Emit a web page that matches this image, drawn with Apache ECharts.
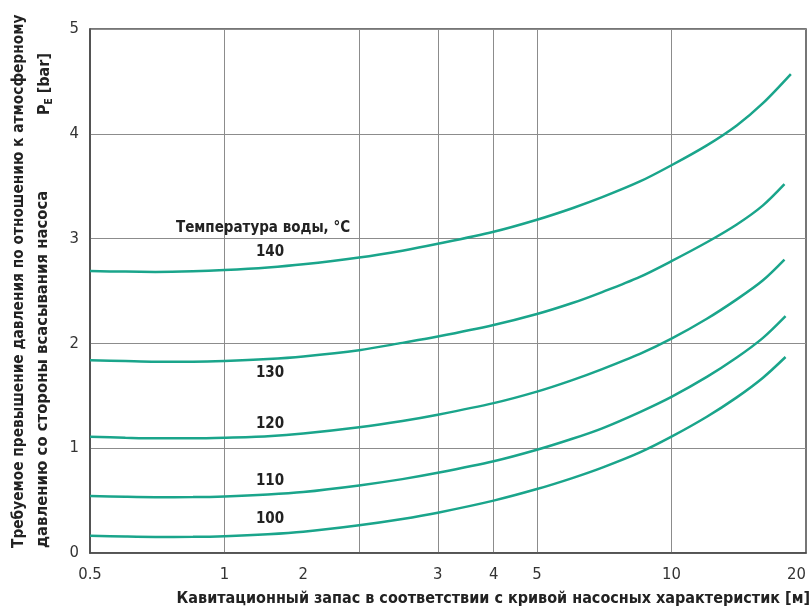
<!DOCTYPE html>
<html>
<head>
<meta charset="utf-8">
<script src="https://cdn.jsdelivr.net/npm/echarts@6/dist/echarts.min.js"></script>
<style>
html,body{margin:0;padding:0;background:#fff;}
#chart{width:812px;height:610px;}
</style>
</head>
<body>
<div id="chart"></div>
<script>
// X values (NPSH, m) — log axis
var xPoints = [0.5, 0.6, 0.7, 0.85, 1, 1.25, 1.5, 2, 2.5, 3, 4, 5, 6, 7, 8.5, 10, 12, 14, 16];
var endX = { t140: 18.5, t130: 17.9, t120: 17.9, t110: 18, t100: 18 };
// Required pressure P_E [bar]
var t140 = [2.69, 2.685, 2.682, 2.688, 2.70, 2.725, 2.755, 2.82, 2.885, 2.95, 3.065, 3.18, 3.29, 3.395, 3.545, 3.70, 3.89, 4.08, 4.29, 4.57];
var t130 = [1.84, 1.832, 1.826, 1.826, 1.832, 1.85, 1.875, 1.935, 2.005, 2.065, 2.175, 2.28, 2.385, 2.49, 2.635, 2.785, 2.965, 3.135, 3.315, 3.52];
var t120 = [1.11, 1.10, 1.094, 1.094, 1.10, 1.115, 1.14, 1.20, 1.26, 1.32, 1.43, 1.54, 1.65, 1.755, 1.90, 2.045, 2.235, 2.42, 2.60, 2.80];
var t110 = [0.545, 0.537, 0.533, 0.534, 0.54, 0.558, 0.582, 0.645, 0.705, 0.765, 0.875, 0.985, 1.09, 1.19, 1.345, 1.49, 1.68, 1.865, 2.05, 2.26];
var t100 = [0.165, 0.157, 0.153, 0.154, 0.16, 0.178, 0.202, 0.265, 0.325, 0.385, 0.50, 0.61, 0.715, 0.815, 0.96, 1.11, 1.30, 1.485, 1.67, 1.87];
var seriesNames = ['140', '130', '120', '110', '100'];
// Axis ticks
var xGridValues = [1, 2, 3, 4, 5, 10];
var xLabelValues = [0.5, 1, 1.5, 3, 4, 5, 10, 20];
var xLabelTexts = ['0.5', '1', '2', '3', '4', '5', '10', '20'];
var yMin = 0, yMax = 5, yStep = 1;

var titleFont = '"Liberation Sans Narrow", "DejaVu Sans Condensed", sans-serif';
var tickFont = '"DejaVu Sans Condensed", "Liberation Sans Narrow", sans-serif';
var lineColor = '#1aa58b';

function pairs(ys, xEnd) {
  var xs = xPoints.concat([xEnd]);
  return ys.map(function (y, i) { return [xs[i], y]; });
}
var curveData = [
  pairs(t140, endX.t140), pairs(t130, endX.t130), pairs(t120, endX.t120),
  pairs(t110, endX.t110), pairs(t100, endX.t100)
];

function xLabel(v) {
  var best = 0, bd = Infinity;
  for (var i = 0; i < xLabelValues.length; i++) {
    var d = Math.abs(Math.log(v) - Math.log(xLabelValues[i]));
    if (d < bd) { bd = d; best = i; }
  }
  return xLabelTexts[best];
}

var chart = echarts.init(document.getElementById('chart'), null, { renderer: 'canvas' });
var option = {
  animation: false,
  backgroundColor: '#fff',
  grid: {
    left: 90, top: 29, width: 716, height: 524,
    outerBoundsMode: 'none', containLabel: false,
    show: true, borderColor: '#4a4a4a', borderWidth: 1.5, backgroundColor: 'transparent'
  },
  xAxis: {
    type: 'log', logBase: 10, min: 0.5, max: 20,
    axisLine: { show: true, lineStyle: { color: '#4a4a4a', width: 1.5 } },
    axisTick: { show: false, customValues: xGridValues },
    splitLine: { show: true, lineStyle: { color: '#8c8c8c', width: 1 } },
    axisLabel: {
      customValues: xLabelValues,
      formatter: function (v) { return xLabel(v); },
      alignMaxLabel: 'right',
      fontFamily: tickFont, fontSize: 16.5, color: '#333', margin: 13
    }
  },
  yAxis: {
    type: 'value', min: yMin, max: yMax, interval: yStep,
    axisLine: { show: true, lineStyle: { color: '#4a4a4a', width: 1.5 } },
    axisTick: { show: false },
    splitLine: { show: true, lineStyle: { color: '#8c8c8c', width: 1 } },
    axisLabel: { fontFamily: tickFont, fontSize: 16.5, color: '#333', margin: 11 }
  },
  series: curveData.map(function (d, i) {
    return {
      name: seriesNames[i], type: 'line', data: d, smooth: 0.3,
      showSymbol: false, symbol: 'none',
      lineStyle: { color: lineColor, width: 2.5 }
    };
  }),
  graphic: [
    { type: 'text', x: 263, y: 228, style: { text: 'Температура воды, °C', font: 'bold 15px ' + titleFont, fill: '#222', align: 'center', verticalAlign: 'middle' } },
    { type: 'text', x: 270, y: 252, style: { text: '140', font: 'bold 15px ' + titleFont, fill: '#222', align: 'center', verticalAlign: 'middle' } },
    { type: 'text', x: 270, y: 373, style: { text: '130', font: 'bold 15px ' + titleFont, fill: '#222', align: 'center', verticalAlign: 'middle' } },
    { type: 'text', x: 270, y: 424, style: { text: '120', font: 'bold 15px ' + titleFont, fill: '#222', align: 'center', verticalAlign: 'middle' } },
    { type: 'text', x: 270, y: 481, style: { text: '110', font: 'bold 15px ' + titleFont, fill: '#222', align: 'center', verticalAlign: 'middle' } },
    { type: 'text', x: 270, y: 519, style: { text: '100', font: 'bold 15px ' + titleFont, fill: '#222', align: 'center', verticalAlign: 'middle' } },
    { type: 'text', x: 810, y: 599, style: { text: 'Кавитационный запас в соответствии с кривой насосных характеристик [м]', font: 'bold 16px ' + titleFont, fill: '#222', align: 'right', verticalAlign: 'middle' } },
    { type: 'text', x: 19, y: 548, rotation: Math.PI / 2, style: { text: 'Требуемое превышение давления по отношению к атмосферному', font: 'bold 15.3px ' + titleFont, fill: '#222', align: 'left', verticalAlign: 'middle' } },
    { type: 'text', x: 43, y: 548, rotation: Math.PI / 2, style: { text: 'давлению со стороны всасывания насоса', font: 'bold 16.5px ' + titleFont, fill: '#222', align: 'left', verticalAlign: 'middle' } },
    { type: 'text', x: 45, y: 115, rotation: Math.PI / 2, style: {
        text: '{p|P}{e|E}{p| [bar]}', align: 'left', verticalAlign: 'middle',
        rich: {
          p: { font: 'bold 16px ' + titleFont, fill: '#222', lineHeight: 18, verticalAlign: 'middle' },
          e: { font: 'bold 10px ' + titleFont, fill: '#222', lineHeight: 18, verticalAlign: 'bottom', padding: [6, 0, 0, 0] }
        }
    } }
  ]
};
chart.setOption(option);
</script>
</body>
</html>
